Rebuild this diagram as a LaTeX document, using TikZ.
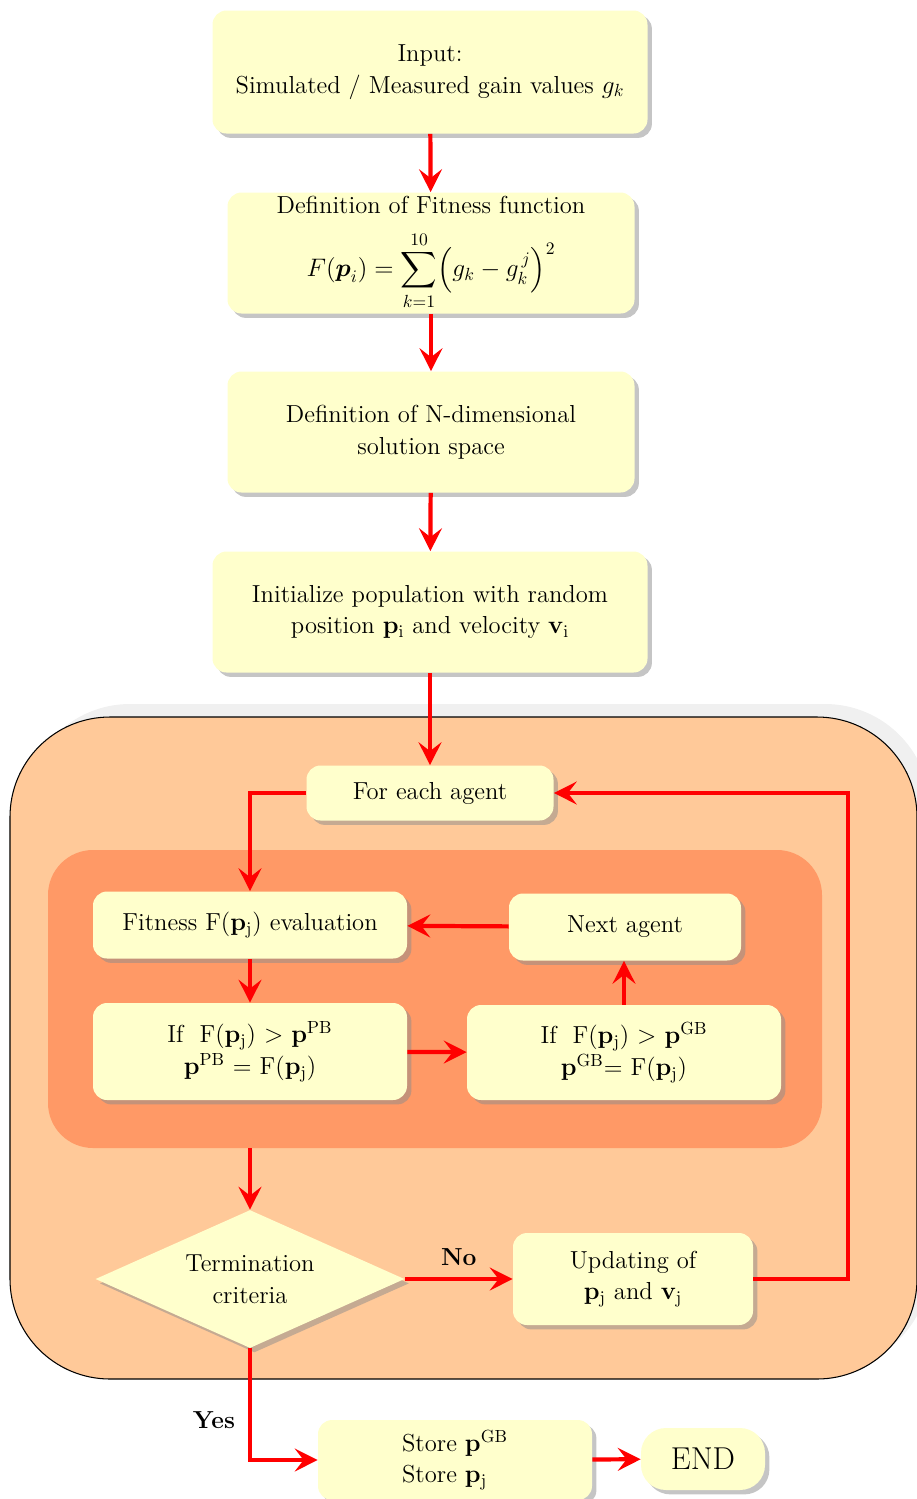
\documentclass[tikz,border=0pt]{standalone}
\usepackage{amsmath}
\usetikzlibrary{calc,positioning,backgrounds}
\usetikzlibrary{shapes.geometric,arrows.meta,shadows}

\definecolor{boxyellow}{HTML}{FFFFCC}
\definecolor{outerpeach}{HTML}{FFC999}
\definecolor{innersalmon}{HTML}{FF9966}

\begin{document}
\begin{tikzpicture}[
  box/.style={fill=boxyellow, rounded corners=8pt, align=center, inner sep=0pt,
    font=\fontsize{14}{18}\selectfont,
    drop shadow={shadow xshift=2.5pt, shadow yshift=-2.5pt, fill=black!45, opacity=0.5}},
  arr/.style={draw=red, line width=2.4pt, -{Stealth[length=13pt,width=13pt,inset=5pt]}},
  lab/.style={font=\fontsize{14}{16}\selectfont\bfseries}]

\useasboundingbox (0,0) rectangle (18.32,-29.98);

% duze tlo petli
\fill[black!6, rounded corners=2.1cm] (0.5,-14.08) rectangle (18.6,-27.4);
\draw[fill=outerpeach, line width=0.6pt, rounded corners=2cm] (0.2,-14.34) rectangle (18.34,-27.58);
% wewnetrzne tlo
\fill[innersalmon, rounded corners=0.9cm] (0.96,-17.0) rectangle (16.44,-22.96);

\node[box, minimum width=8.7cm, minimum height=2.46cm] (inp) at (8.6,-1.44)
  {Input:\\Simulated / Measured gain values $g_k$};
\node[box, minimum width=8.14cm, minimum height=2.42cm] (fit) at (8.62,-5.06)
  {Definition of Fitness function\\[9pt]
   $\displaystyle F(\boldsymbol{p}_i)=\sum_{k=1}^{10}\Bigl(g_k-g_k^{\,j}\Bigr)^2$};
\node[box, minimum width=8.14cm, minimum height=2.42cm] (dim) at (8.62,-8.64)
  {Definition of N-dimensional\\solution space};
\node[box, minimum width=8.7cm, minimum height=2.42cm] (ini) at (8.6,-12.24)
  {Initialize population with random\\position $\mathbf{p}_\mathrm{i}$ and velocity $\mathbf{v}_\mathrm{i}$};

\node[box, minimum width=4.94cm, minimum height=1.1cm] (each) at (8.6,-15.86) {For each agent};
\node[box, minimum width=6.28cm, minimum height=1.34cm] (eval) at (5.0,-18.5)
  {Fitness F($\mathbf{p}_\mathrm{j}$) evaluation};
\node[box, minimum width=4.64cm, minimum height=1.34cm] (next) at (12.5,-18.54) {Next agent};
\node[box, minimum width=6.28cm, minimum height=1.94cm] (pb) at (5.0,-21.03)
  {If~ F($\mathbf{p}_\mathrm{j}$) $>$ $\mathbf{p}^{\mathrm{PB}}$\\$\mathbf{p}^{\mathrm{PB}}$ = F($\mathbf{p}_\mathrm{j}$)};
\node[box, minimum width=6.28cm, minimum height=1.9cm] (gb) at (12.48,-21.05)
  {If~ F($\mathbf{p}_\mathrm{j}$) $>$ $\mathbf{p}^{\mathrm{GB}}$\\$\mathbf{p}^{\mathrm{GB}}$= F($\mathbf{p}_\mathrm{j}$)};

\node[box, diamond, rounded corners=0pt, aspect=2.24, minimum width=6.18cm, minimum height=2.76cm]
  (term) at (5.0,-25.58) {Termination\\criteria};
\node[box, minimum width=4.8cm, minimum height=1.84cm] (upd) at (12.66,-25.58)
  {Updating of\\$\mathbf{p}_\mathrm{j}$ and $\mathbf{v}_\mathrm{j}$};

\node[box, minimum width=5.48cm, minimum height=1.6cm, align=left] (store) at (9.1,-29.2)
  {Store $\mathbf{p}^{\mathrm{GB}}$\\Store $\mathbf{p}_\mathrm{j}$};
\node[box, rounded corners=0.5cm, minimum width=2.48cm, minimum height=1.24cm,
  font=\fontsize{18}{20}\selectfont] (end) at (14.06,-29.18) {END};

\coordinate (ib) at (5.0,-22.96); % dol wewn. tla
\coordinate (rt) at (16.96,-15.86); % prawy rog petli

\draw[arr] (inp) -- (fit);
\draw[arr] (fit) -- (dim);
\draw[arr] (dim) -- (ini);
\draw[arr] (ini) -- (each);
\draw[arr] (each.west) -| (eval.north);
\draw[arr] (eval) -- (pb);
\draw[arr] (pb) -- (gb);
\draw[arr] (gb.north) -- (gb.north |- next.south);
\draw[arr] (next) -- (eval);
\draw[arr] (ib) -- (term.north);
\draw[arr] (term.east) -- (upd.west) node[lab, midway, above=3pt] {No};
\draw[arr] (upd.east) -| (rt) -- (each.east);
\draw[arr] (term.south) |- (store.west) node[lab, pos=0.32, left=4pt] {Yes};
\draw[arr] (store) -- (end);
\end{tikzpicture}
\end{document}
